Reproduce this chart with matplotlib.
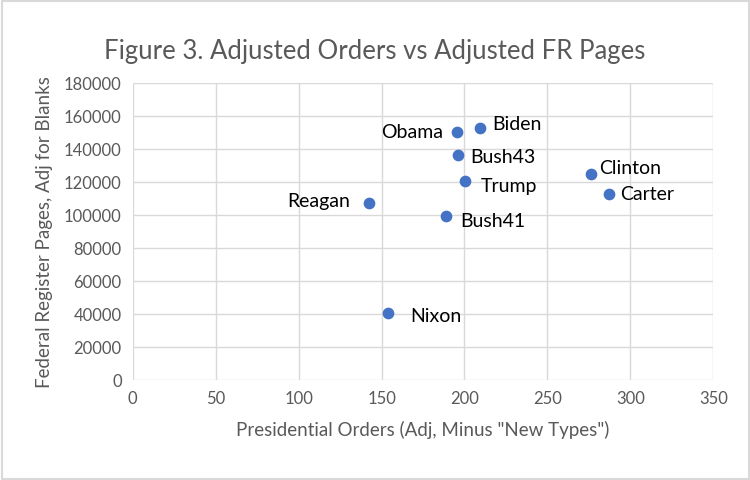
import matplotlib
matplotlib.use("Agg")
import matplotlib.pyplot as plt
from matplotlib.patches import Rectangle

# data
presidents = ["Obama", "Biden", "Bush43", "Trump", "Clinton", "Carter", "Reagan", "Bush41", "Nixon"]
orders = [195.6, 209.5, 196.2, 200.4, 276.3, 286.9, 142.2, 188.9, 153.8]
fr_pages = [150100, 152500, 136400, 120800, 124800, 112700, 107500, 99400, 40400]

# label placement (offset in points, horizontal alignment)
label_pos = {
    "Obama": (-10, 0, "right"),
    "Biden": (9, 3, "left"),
    "Bush43": (9, -2, "left"),
    "Trump": (11, -4, "left"),
    "Clinton": (6, 4, "left"),
    "Carter": (8, 0, "left"),
    "Reagan": (-13, 1, "right"),
    "Bush41": (10, -4, "left"),
    "Nixon": (16, -2, "left"),
}

plt.rcParams['font.family'] = ['Lato', 'DejaVu Sans']
grey = "#595959"

fig = plt.figure(figsize=(7.5, 4.8), dpi=100)
ax = fig.add_axes([0.177, 0.208, 0.774, 0.619])

ax.scatter(orders, fr_pages, s=55, color="#4472C4", zorder=3)
for name, x, y in zip(presidents, orders, fr_pages):
    dx, dy, ha = label_pos[name]
    ax.annotate(name, (x, y), xytext=(dx, dy), textcoords="offset points",
                ha=ha, va="center", fontsize=14, color="black")

ax.set_xlim(0, 350)
ax.set_ylim(0, 180000)
ax.set_xticks(range(0, 351, 50))
ax.set_yticks(range(0, 180001, 20000))
ax.grid(True, color="#d9d9d9", linewidth=1)
ax.set_axisbelow(True)
for s in ax.spines.values():
    s.set_visible(False)
ax.tick_params(length=0, labelsize=12, colors=grey, pad=8)

fig.text(0.499, 0.893, "Figure 3. Adjusted Orders vs Adjusted FR Pages", fontsize=18.5,
         color=grey, ha="center", va="center")
ax.set_xlabel('Presidential Orders (Adj, Minus "New Types")', fontsize=13.5, color=grey, labelpad=10)
ax.set_ylabel("Federal Register Pages, Adj for Blanks", fontsize=13.5, color=grey, labelpad=8)

fig.patches.append(Rectangle((0.002, 0.003), 0.996, 0.994, transform=fig.transFigure,
                             fill=False, edgecolor="#d9d9d9", linewidth=1.5))

fig.savefig("out.png", dpi=100)
